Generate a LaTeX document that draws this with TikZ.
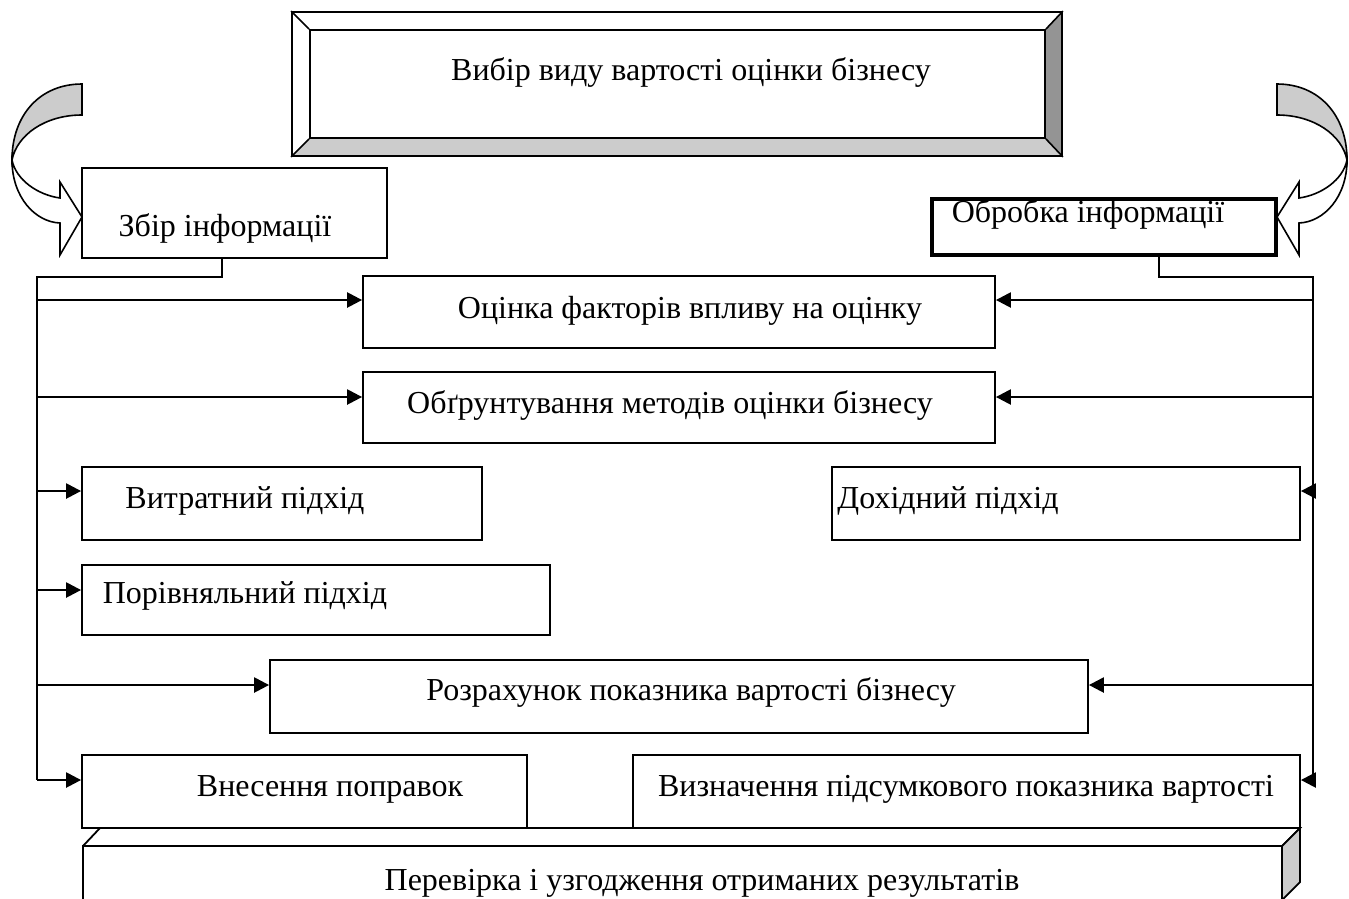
\documentclass[tikz,border=0pt]{standalone}
\usepackage{fontspec}
\setmainfont{Liberation Serif}
\usetikzlibrary{arrows.meta}
\begin{document}
\begin{tikzpicture}[x=1pt,y=-1pt,
  box/.style={draw,line width=1.8pt,rectangle,inner sep=0pt},
  txt/.style={font=\fontsize{32}{34}\selectfont,anchor=base,inner sep=0pt},
  line/.style={line width=1.8pt},
  arr/.style={line width=2.4pt,-{Triangle[length=15pt,width=15pt]}},
  gfill/.style={fill=black!20,draw,line width=1.6pt,line join=miter},
]
\useasboundingbox (0,0) rectangle (1349,898);
\clip (0,0) rectangle (1349,898);
% --- top bevelled box ---
\coordinate (TO1) at (292,12);
\coordinate (TO2) at (1062,156);
\coordinate (TI1) at (310,30);
\coordinate (TI2) at (1045,138);
\fill[black!20] (TO1 |- TO2) -- (TO2) -- (TI2) -- (TI1 |- TI2) -- cycle;
\fill[black!42] (TO2) -- (TO2 |- TO1) -- (TI2 |- TI1) -- (TI2) -- cycle;
\node[box,minimum width=770pt,minimum height=144pt] (top) at (677,84) {};
\node[box,minimum width=735pt,minimum height=108pt] (topin) at (677.5,84) {};
\draw[line width=1.6pt] (top.north west) -- (topin.north west)
  (top.north east) -- (topin.north east)
  (top.south west) -- (topin.south west)
  (top.south east) -- (topin.south east);
\node[txt] (toptxt) at (691,80) {Вибір виду вартості оцінки бізнесу};
% --- curved arrows ---
\begin{scope}
  \draw[fill=white,line width=1.6pt,line join=miter] (12,160) .. controls (12,197) and (35,222) .. (60,223) -- (60,255) -- (82,217) -- (60,182) -- (60,198) .. controls (38,195) and (16,180) .. (12,160) -- cycle;
  \draw[gfill] (82,84) .. controls (40,84) and (12,115) .. (12,160) .. controls (17,135) and (45,115) .. (82,115) -- cycle;
\end{scope}
\begin{scope}[shift={(1359,0)},xscale=-1]
  \draw[fill=white,line width=1.6pt,line join=miter] (12,160) .. controls (12,197) and (35,222) .. (60,223) -- (60,255) -- (82,217) -- (60,182) -- (60,198) .. controls (38,195) and (16,180) .. (12,160) -- cycle;
  \draw[gfill] (82,84) .. controls (40,84) and (12,115) .. (12,160) .. controls (17,135) and (45,115) .. (82,115) -- cycle;
\end{scope}
% --- boxes ---
\node[box,minimum width=305pt,minimum height=90pt] (zbir) at (234.5,213) {};
\node[txt] (zbirt) at (225,236) {Збір інформації};
\node[box,line width=4pt,minimum width=344pt,minimum height=56pt] (obr) at (1104,227) {};
\node[txt] (obrt) at (1088,222) {Обробка інформації};
\node[box,minimum width=632pt,minimum height=72pt] (ocin) at (679,312) {};
\node[txt] (ocint) at (690,318) {Оцінка факторів впливу на оцінку};
\node[box,minimum width=632pt,minimum height=71pt] (obg) at (679,407.5) {};
\node[txt] (obgt) at (670,413) {Обґрунтування методів оцінки бізнесу};
\node[box,minimum width=400pt,minimum height=73pt] (vytr) at (282,503.5) {};
\node[txt] (vytrt) at (245,508) {Витратний підхід};
\node[box,minimum width=468pt,minimum height=73pt] (doh) at (1066,503.5) {};
\node[txt] (doht) at (948,508) {Дохідний підхід};
\node[box,minimum width=468pt,minimum height=70pt] (por) at (316,600) {};
\node[txt] (port) at (245,603) {Порівняльний підхід};
\node[box,minimum width=818pt,minimum height=73pt] (rozr) at (679,696.5) {};
\node[txt] (rozrt) at (691,700) {Розрахунок показника вартості бізнесу};
\node[box,minimum width=445pt,minimum height=73pt] (vnes) at (304.5,791.5) {};
\node[txt] (vnest) at (330,796) {Внесення поправок};
\node[box,minimum width=667pt,minimum height=73pt] (vyzn) at (966.5,791.5) {};
\node[txt] (vyznt) at (966,796) {Визначення підсумкового показника вартості};
% --- bottom cube ---
\coordinate (CF1) at (83,846);
\coordinate (CF2) at (1282,846);
\coordinate (CB1) at (100,828);
\coordinate (CB2) at (1300,828);
\draw[line width=1.8pt,fill=white] (83,905) -- (CF1) -- (CF2) -- (1282,905);
\draw[line width=1.8pt] (CF1) -- (CB1) -- (CB2) -- (CF2);
\draw[gfill,line width=1.8pt] (CF2) -- (CB2) -- (1300,882) -- (1282,900) -- cycle;
\node[txt] (cubet) at (702,890) {Перевірка і узгодження отриманих результатів};
% --- trunks ---
\coordinate (LT) at (37,277);
\coordinate (LB) at (37,780);
\coordinate (RT) at (1313,277);
\coordinate (RB) at (1313,780);
\draw[line] (zbir.south -| 222,0) |- (LT) -- (LB);
\draw[line] (obr.south -| 1159,0) |- (RT) -- (RB);
% --- arrows from left ---
\draw[arr] (37,300) -- (ocin.west |- 0,300);
\draw[arr] (37,397) -- (obg.west |- 0,397);
\draw[arr] (37,491) -- (vytr.west |- 0,491);
\draw[arr] (37,590) -- (por.west |- 0,590);
\draw[arr] (37,685) -- (rozr.west |- 0,685);
\draw[arr] (LB) -- (vnes.west |- LB);
% --- arrows from right ---
\draw[arr] (1313,300) -- (ocin.east |- 0,300);
\draw[arr] (1313,397) -- (obg.east |- 0,397);
\draw[arr] (1313,491) -- (doh.east |- 0,491);
\draw[arr] (1313,685) -- (rozr.east |- 0,685);
\draw[arr] (RB) -- (vyzn.east |- RB);
\end{tikzpicture}
\end{document}
